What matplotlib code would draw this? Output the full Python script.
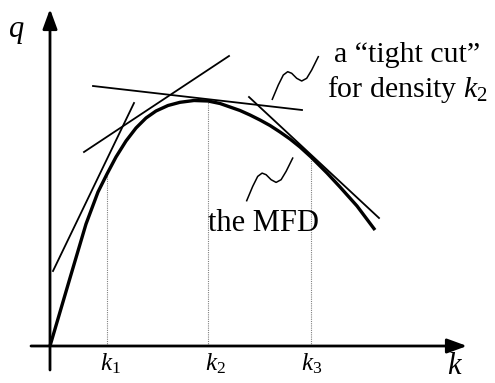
import numpy as np
import matplotlib
matplotlib.use("Agg")
import matplotlib.pyplot as plt

plt.rcParams['font.family'] = ['Liberation Serif', 'DejaVu Serif']
plt.rcParams['mathtext.fontset'] = 'custom'
plt.rcParams['mathtext.rm'] = 'Liberation Serif'
plt.rcParams['mathtext.it'] = 'Liberation Serif:italic'

# MFD curve (k, q)
mfd_k = [0, 20, 36, 48, 57, 66, 76, 86, 96, 106, 118, 130, 144, 158,
         170, 180, 190, 200, 210, 220, 230, 240, 250, 261, 277, 290, 307, 325]
mfd_q = [0, 68, 122, 154, 172, 189, 205, 218, 228, 235, 240.5, 243.7, 245.5, 245,
         242.5, 239, 235.5, 231, 226, 220.5, 214, 207, 199, 189, 173, 159, 140, 116]

# tangent lines ("tight cuts"): (k_start, q_start, k_end, q_end)
cuts = [(3, 75, 84, 243),
        (34, 194, 179, 290),
        (43, 260, 252, 236),
        (199, 249, 329, 128)]

# densities k1, k2, k3 and their flows on the curve
dens_k = [57, 158, 261]
dens_q = [172, 245, 189]
dens_lbl = ['$k_1$', '$k_2$', '$k_3$']
lbl_k = [60, 165, 262]

# squiggle shape (relative) and where the two squiggles start
sq_dk = [0, 6, 11, 15.4, 19.4, 24.4, 29.4, 34.4, 39.4, 46]
sq_dq = [0, 14.3, 24.3, 27.6, 26, 21, 18.3, 21, 29.3, 42.6]
sq_start = [(222.3, 246.7), (196.7, 145.3)]

fig = plt.figure(figsize=(4.95, 3.83), dpi=100)
ax = fig.add_axes([0, 0, 1, 1])
ax.set_xlim(-50, 445)
ax.set_ylim(-37, 346)
ax.axis('off')

# axes with arrows
arr = dict(arrowstyle='-|>,head_length=0.6,head_width=0.22', lw=2.0,
           color='k', shrinkA=0, shrinkB=0, mutation_scale=20)
ax.annotate('', xy=(0, 337), xytext=(0, -24), arrowprops=arr)
ax.annotate('', xy=(417, 0), xytext=(-19, 0), arrowprops=arr)

# dotted verticals
for k, q in zip(dens_k, dens_q):
    ax.plot([k, k], [0, q], color='gray', lw=0.8, ls=(0, (1, 1)))

# the MFD
ax.plot(mfd_k, mfd_q, color='k', lw=2.4, solid_joinstyle='round',
        solid_capstyle='butt')

# tangents
for k0, q0, k1, q1 in cuts:
    ax.plot([k0, k1], [q0, q1], color='k', lw=1.3)

# squiggles
for k0, q0 in sq_start:
    ax.plot(np.array(sq_dk) + k0, np.array(sq_dq) + q0, color='k', lw=1.1)

# labels
ax.text(-34, 309, '$q$', fontsize=22, ha='center', va='baseline')
ax.text(405, -28, '$k$', fontsize=22, ha='center', va='baseline')
for k, s in zip(lbl_k, dens_lbl):
    ax.text(k, -24, s, fontsize=18, ha='center', va='baseline')

ax.text(357, 284, 'a \u201ctight cut\u201d', fontsize=21.5, ha='center', va='baseline')
ax.text(357, 249, 'for density $k_2$', fontsize=21.5, ha='center', va='baseline')
ax.text(214, 115, 'the MFD', fontsize=22, ha='center', va='baseline')

fig.savefig('out.png', dpi=100)
